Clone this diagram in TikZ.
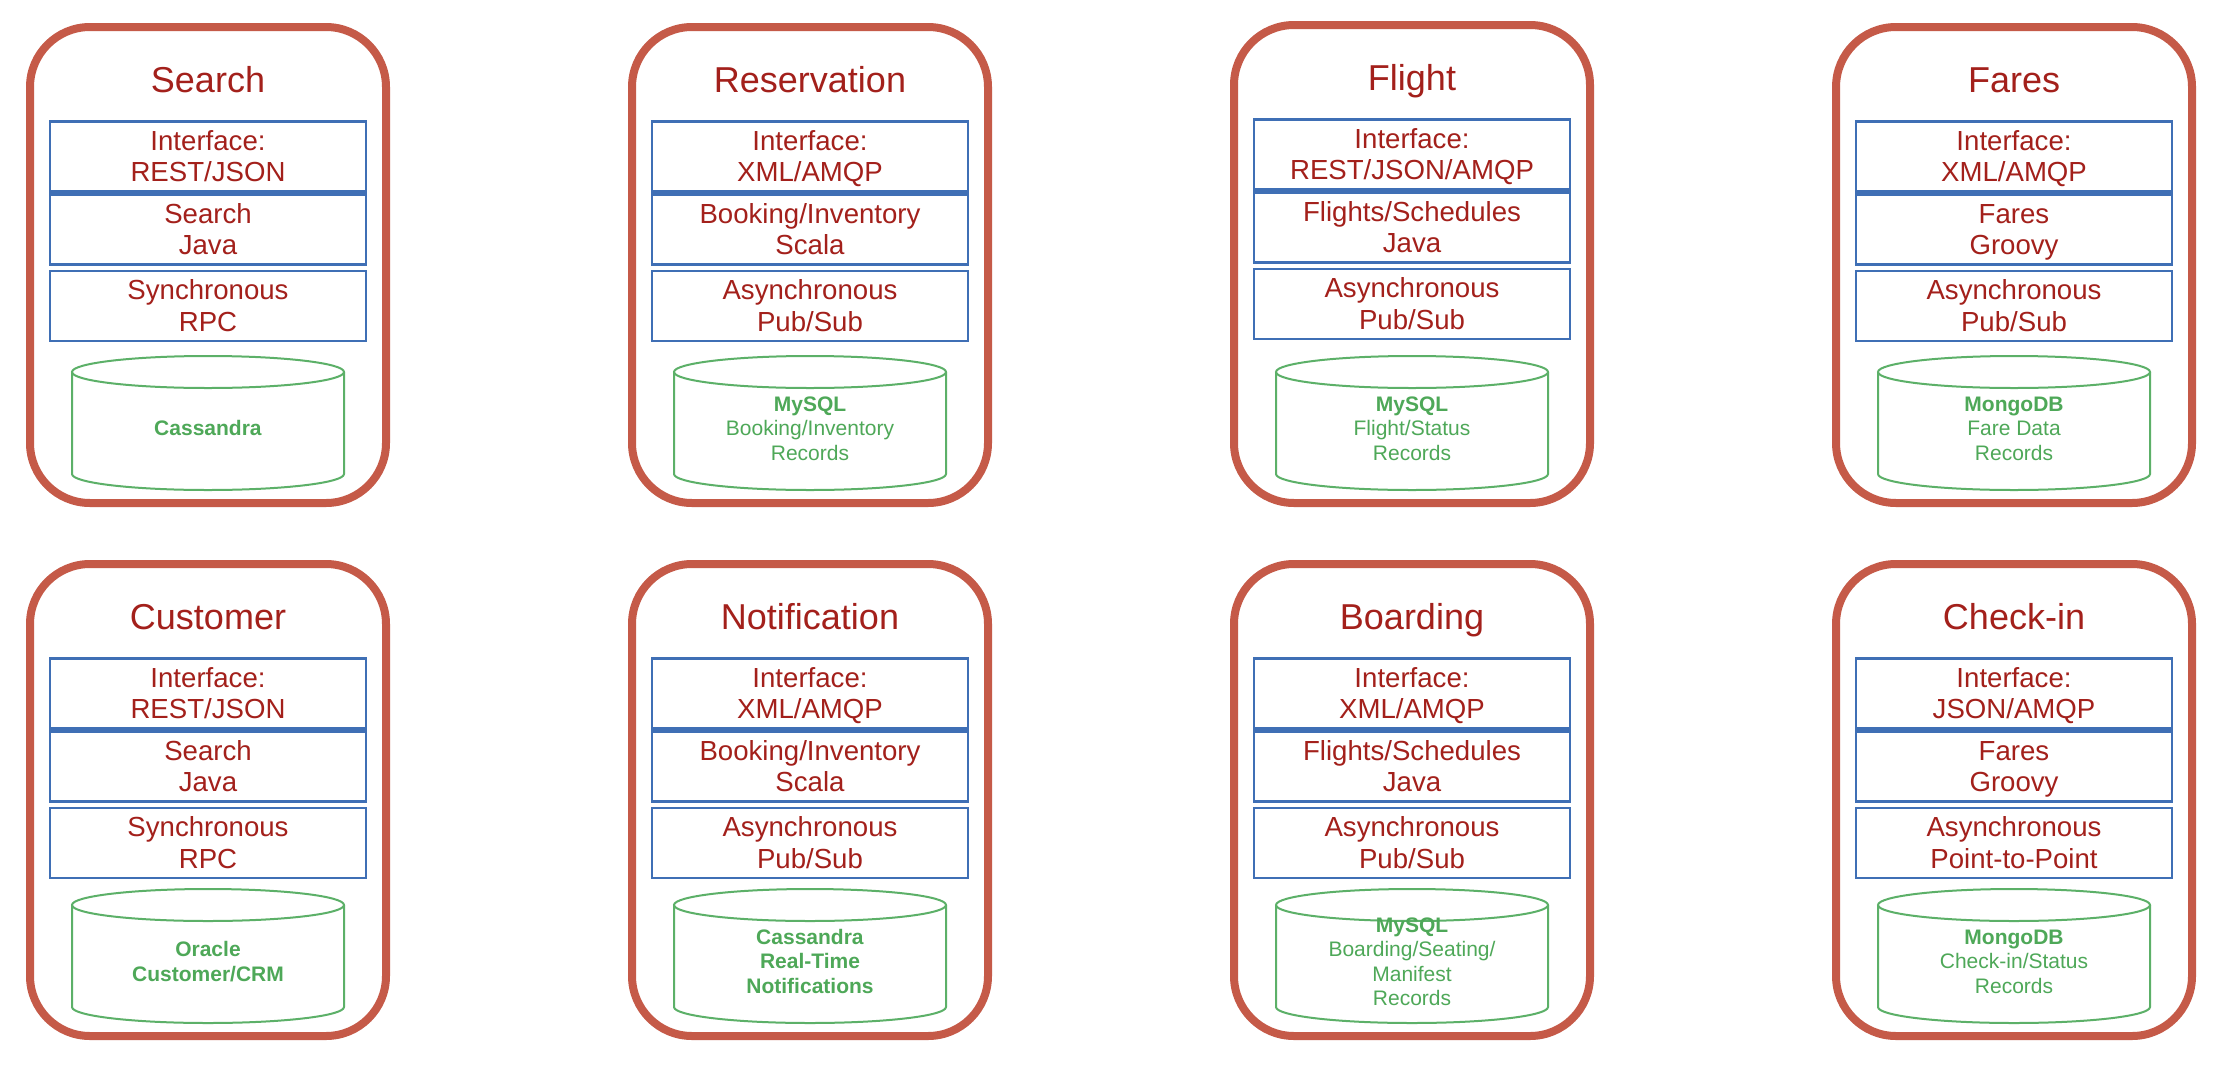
\documentclass[tikz,border=0pt]{standalone}
\usepackage{fontspec}
\setmainfont{Liberation Sans}
\usetikzlibrary{calc}
\definecolor{cardred}{HTML}{C55A48}
\definecolor{titlered}{HTML}{A3201B}
\definecolor{boxblue}{HTML}{3F6FB5}
\definecolor{dbgreen}{HTML}{5CB068}
\definecolor{dbtxt}{HTML}{4EA858}
\tikzset{
  card/.style={draw=cardred, line width=8pt, rounded corners=60pt, minimum width=356pt, inner sep=0pt},
  ctitle/.style={text=titlered, font=\fontsize{36}{40}\selectfont, anchor=base, inner sep=0pt},
  layerbox/.style={draw=boxblue, line width=2.2pt, minimum width=316pt, minimum height=70pt, inner sep=0pt,
    text=titlered, font=\fontsize{27.6}{31.5}\selectfont, align=center},
  dbline/.style={draw=dbgreen, line width=2pt},
  dbtext/.style={text=dbtxt, font=\fontsize{21}{24.5}\selectfont, align=center, inner sep=0pt},
}
\newcommand\topstrut{\rule{0pt}{28pt}}
% #1 name, #2 left, #3 top, #4 height, #5 title, #6-#8 layers, #9 db text
\newcommand\svccard[9]{%
  \node[card, minimum height=#4pt] (#1) at (#2+178, #3+#4/2) {};
  \node[ctitle] (#1-title) at (#2+178, #3+65) {#5};
  \node[layerbox] (#1-a) at (#2+178, #3+129.5) {\topstrut #6\strut};
  \node[layerbox] (#1-b) at (#2+178, #3+202.5) {\topstrut #7\strut};
  \node[layerbox] (#1-c) at (#2+178, #3+279) {\topstrut #8\strut};
  \coordinate (#1-dbtop) at (#2+178, #3+#4-147);
  \coordinate (#1-dbbot) at (#2+178, #3+#4-13);
  \draw[dbline] ([xshift=-136pt]#1-dbtop) ++(0,16) -- ([xshift=-136pt,yshift=16pt]#1-dbbot)
     arc[start angle=180, end angle=360, x radius=136pt, y radius=16pt] -- ([xshift=136pt,yshift=-16pt]#1-dbtop);
  \draw[dbline] ([yshift=-16pt]#1-dbtop) ellipse [x radius=136pt, y radius=16pt];
  \node[dbtext] (#1-db) at ($(#1-dbtop)!0.5!(#1-dbbot)+(0,8)$) {\strut #9\strut};
}
\begin{document}
\begin{tikzpicture}[x=1pt,y=-1pt]
\fill[white] (0,0) rectangle (2220,1074);
\useasboundingbox (0,0) rectangle (2220,1074);

\svccard{search}{30}{27}{476}{Search}{Interface:\\REST/JSON}{Search\\Java}{Synchronous\\RPC}{\textbf{Cassandra}}
\svccard{reservation}{632}{27}{476}{Reservation}{Interface:\\XML/AMQP}{Booking/Inventory\\Scala}{Asynchronous\\Pub/Sub}{\textbf{MySQL}\\Booking/Inventory\\Records}
\svccard{flight}{1234}{25}{478}{Flight}{Interface:\\REST/JSON/AMQP}{Flights/Schedules\\Java}{Asynchronous\\Pub/Sub}{\textbf{MySQL}\\Flight/Status\\Records}
\svccard{fares}{1836}{27}{476}{Fares}{Interface:\\XML/AMQP}{Fares\\Groovy}{Asynchronous\\Pub/Sub}{\textbf{MongoDB}\\Fare Data\\Records}

\svccard{customer}{30}{564}{472}{Customer}{Interface:\\REST/JSON}{Search\\Java}{Synchronous\\RPC}{\textbf{Oracle}\\\textbf{Customer/CRM}}
\svccard{notification}{632}{564}{472}{Notification}{Interface:\\XML/AMQP}{Booking/Inventory\\Scala}{Asynchronous\\Pub/Sub}{\textbf{Cassandra}\\\textbf{Real-Time}\\\textbf{Notifications}}
\svccard{boarding}{1234}{564}{472}{Boarding}{Interface:\\XML/AMQP}{Flights/Schedules\\Java}{Asynchronous\\Pub/Sub}{\textbf{MySQL}\\Boarding/Seating/\\Manifest\\Records}
\svccard{checkin}{1836}{564}{472}{Check-in}{Interface:\\JSON/AMQP}{Fares\\Groovy}{Asynchronous\\Point-to-Point}{\textbf{MongoDB}\\Check-in/Status\\Records}
\end{tikzpicture}
\end{document}
